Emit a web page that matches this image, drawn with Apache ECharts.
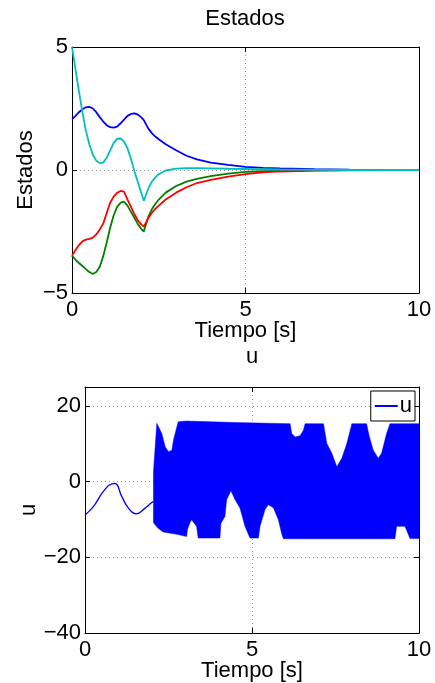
<!DOCTYPE html>
<html>
<head>
<meta charset="utf-8">
<script src="https://cdn.jsdelivr.net/npm/echarts@6/dist/echarts.min.js"></script>
<style>html,body{margin:0;padding:0;background:#fff}#c{width:435px;height:683px}</style>
</head>
<body>
<div id="c"></div>
<script>
// ---- Top chart: Estados ----
const time = [0,0.1,0.2,0.3,0.4,0.5,0.6,0.7,0.8,0.9,1.0,1.1,1.2,1.3,1.4,1.5,1.6,1.7,1.8,1.9,2.0,
              2.07,2.2,2.3,2.4,2.5,2.7,3.0,3.3,3.6,4.0,4.5,5.0,5.5,6.0,7.0,8.0,9.0,10.0];
const stateBlue = [2.06,2.2,2.35,2.47,2.55,2.57,2.5,2.35,2.15,1.97,1.82,1.74,1.72,1.76,1.9,2.05,2.2,2.28,2.3,2.25,2.14,
                   2.03,1.68,1.5,1.36,1.25,1.05,0.8,0.58,0.43,0.3,0.21,0.13,0.09,0.06,0.03,0.01,0.005,0];
const stateCyan = [5,4.1,3.2,2.35,1.6,1.05,0.62,0.38,0.28,0.3,0.5,0.8,1.1,1.27,1.28,1.15,0.88,0.45,-0.05,-0.5,-0.95,
                   -1.25,-0.75,-0.48,-0.3,-0.17,-0.02,0.06,0.08,0.08,0.07,0.05,0.04,0.03,0.02,0.01,0,0,0];
const stateRed = [-3.48,-3.25,-3.05,-2.9,-2.83,-2.8,-2.75,-2.62,-2.42,-2.18,-1.75,-1.33,-1.08,-0.93,-0.85,-0.88,-1.2,-1.5,-1.8,-2.05,-2.22,
                  -2.3,-1.95,-1.75,-1.58,-1.45,-1.2,-0.92,-0.7,-0.53,-0.4,-0.27,-0.17,-0.1,-0.06,-0.02,-0.01,0,0];
const stateGreen = [-3.48,-3.65,-3.78,-3.9,-4.03,-4.15,-4.23,-4.15,-3.93,-3.5,-2.95,-2.35,-1.85,-1.5,-1.33,-1.29,-1.45,-1.7,-1.95,-2.2,-2.4,
                    -2.5,-1.9,-1.6,-1.38,-1.2,-0.92,-0.65,-0.47,-0.36,-0.25,-0.15,-0.08,-0.05,-0.03,-0.01,0,0,0];

// ---- Bottom chart: u ----
const uTime = [0,0.25,0.55,0.8,0.9,1.1,1.3,1.53,1.8,2.0,2.05];
const uValue = [-8.8,-6.6,-2.6,-0.6,-0.5,-3.9,-7.0,-8.5,-7.0,-5.5,-5.3];
// chattering band envelope (t >= 2.05)
const upT = [2.05,2.15,2.3,2.4,2.5,2.6,2.65,2.79,3.03,4.5,6.14,6.19,6.29,6.44,6.54,6.59,7.14,7.24,7.39,7.54,7.69,7.84,7.99,8.43,8.51,8.63,8.78,8.88,9.03,9.13,10];
const upV = [2.6,15.4,12.7,9.2,7.9,8.3,11,15.8,16,15.6,15.3,12.7,11.8,12.1,13.6,15.3,15.3,10.1,7.5,3.9,6.2,10.1,15.3,15.3,12,8.3,6.2,7.5,12.7,15.3,15.3];
const lowT = [2.05,2.19,2.34,2.79,3.04,3.07,3.14,3.19,3.34,3.39,4.04,4.07,4.19,4.24,4.37,4.49,4.64,4.79,4.94,5.19,5.24,5.39,5.49,5.64,5.79,5.89,5.94,9.28,9.33,9.58,9.73,10];
const lowV = [-10.9,-12.3,-13.3,-14,-14.5,-12.6,-10.9,-10.1,-11.8,-14.9,-14.9,-11,-9.2,-4.8,-2.4,-4.7,-7,-11.8,-14.9,-14.9,-11.8,-7.4,-6.1,-6.9,-10.1,-13.8,-15.1,-15.1,-11.8,-11.8,-15,-15];

const FONT = "'Liberation Sans', Arial, Helvetica, sans-serif";
const pair = (xs, ys) => xs.map((x, i) => [x, ys[i]]);
const minus = v => String(v).replace('-', '\u2212');

function mainX(grid) {
  return {
    gridIndex: grid, type: 'value', min: 0, max: 10, interval: 5,
    axisLine: { show: true, onZero: false, lineStyle: { color: '#000', width: 1 } },
    axisTick: { show: true, inside: true, length: 5, lineStyle: { color: '#000' } },
    axisLabel: { color: '#000', fontSize: 22, fontFamily: FONT, margin: 6, formatter: minus },
    splitLine: { show: true, lineStyle: { color: '#999', type: [1, 3], width: 1 } },
    name: 'Tiempo [s]', nameLocation: 'middle', nameGap: 27, nameMoveOverlap: false,
    nameTextStyle: { color: '#000', fontSize: 22, fontFamily: FONT }
  };
}
function topX(grid) {
  return {
    gridIndex: grid, type: 'value', position: 'top', min: 0, max: 10, interval: 5,
    axisLine: { show: true, onZero: false, lineStyle: { color: '#000', width: 1 } },
    axisTick: { show: true, inside: true, length: 5, lineStyle: { color: '#000' } },
    axisLabel: { show: false }, splitLine: { show: false }
  };
}
function mainY(grid, min, max, interval, name, gap) {
  return {
    gridIndex: grid, type: 'value', min: min, max: max, interval: interval,
    axisLine: { show: true, onZero: false, lineStyle: { color: '#000', width: 1 } },
    axisTick: { show: true, inside: true, length: 5, lineStyle: { color: '#000' } },
    axisLabel: { color: '#000', fontSize: 22, fontFamily: FONT, margin: 4, formatter: minus, showMaxLabel: max % interval === 0 },
    splitLine: { show: true, lineStyle: { color: '#999', type: [1, 3], width: 1 } },
    name: name, nameLocation: 'middle', nameGap: gap, nameMoveOverlap: false,
    nameTextStyle: { color: '#000', fontSize: 22, fontFamily: FONT }
  };
}
function rightY(grid, min, max, interval) {
  return {
    gridIndex: grid, type: 'value', position: 'right', min: min, max: max, interval: interval,
    axisLine: { show: true, onZero: false, lineStyle: { color: '#000', width: 1 } },
    axisTick: { show: true, inside: true, length: 5, lineStyle: { color: '#000' } },
    axisLabel: { show: false }, splitLine: { show: false }
  };
}
function stateLine(name, color, values) {
  return {
    name: name, type: 'line', xAxisIndex: 0, yAxisIndex: 0, data: pair(time, values),
    symbol: 'none', lineStyle: { color: color, width: 1.8 }, itemStyle: { color: color }
  };
}

const chart = echarts.init(document.getElementById('c'), null, { renderer: 'canvas' });
chart.setOption({
  animation: false,
  backgroundColor: '#fff',
  title: [
    { text: 'Estados', left: 245, top: 8, textAlign: 'center', padding: 0,
      textStyle: { fontSize: 22, fontWeight: 'normal', color: '#000', fontFamily: FONT } },
    { text: 'u', left: 252, top: 346, textAlign: 'center', padding: 0,
      textStyle: { fontSize: 22, fontWeight: 'normal', color: '#000', fontFamily: FONT } }
  ],
  legend: {
    data: [{ name: 'u', icon: 'rect' }], right: 20, top: 391, orient: 'vertical',
    backgroundColor: '#fff', borderColor: '#000', borderWidth: 1, borderRadius: 0,
    padding: [4, 3, 4, 4], itemWidth: 23, itemHeight: 2, itemGap: 2,
    textStyle: { fontSize: 22, color: '#000', fontFamily: FONT, padding: [0, 0, 0, -3] }
  },
  grid: [
    { left: 72, right: 16, top: 47, height: 246, containLabel: false },
    { left: 85, right: 16, top: 387, height: 246, containLabel: false }
  ],
  xAxis: [mainX(0), topX(0), mainX(1), topX(1)],
  yAxis: [mainY(0, -5, 5, 5, 'Estados', 35), rightY(0, -5, 5, 5),
          mainY(1, -40, 25, 20, 'u', 45), rightY(1, -40, 25, 20)],
  series: [
    stateLine('x1', '#0000ff', stateBlue),
    stateLine('x2', '#008000', stateGreen),
    stateLine('x3', '#ff0000', stateRed),
    stateLine('x4', '#00bfbf', stateCyan),
    {
      name: 'u', type: 'line', xAxisIndex: 2, yAxisIndex: 2, data: pair(uTime, uValue),
      smooth: true, symbol: 'none', lineStyle: { color: '#0000ff', width: 1.3 }, itemStyle: { color: '#0000ff' }
    },
    {
      name: 'u band', type: 'custom', xAxisIndex: 2, yAxisIndex: 2, data: [[upT[0], upV[0]]],
      renderItem: function (params, api) {
        const pts = [];
        for (let i = 0; i < upT.length; i++) pts.push(api.coord([upT[i], upV[i]]));
        for (let i = lowT.length - 1; i >= 0; i--) pts.push(api.coord([lowT[i], lowV[i]]));
        return { type: 'polygon', shape: { points: pts }, style: { fill: '#0000ff', stroke: '#0000ff', lineWidth: 0.5 } };
      }
    }
  ]
});
</script>
</body>
</html>
